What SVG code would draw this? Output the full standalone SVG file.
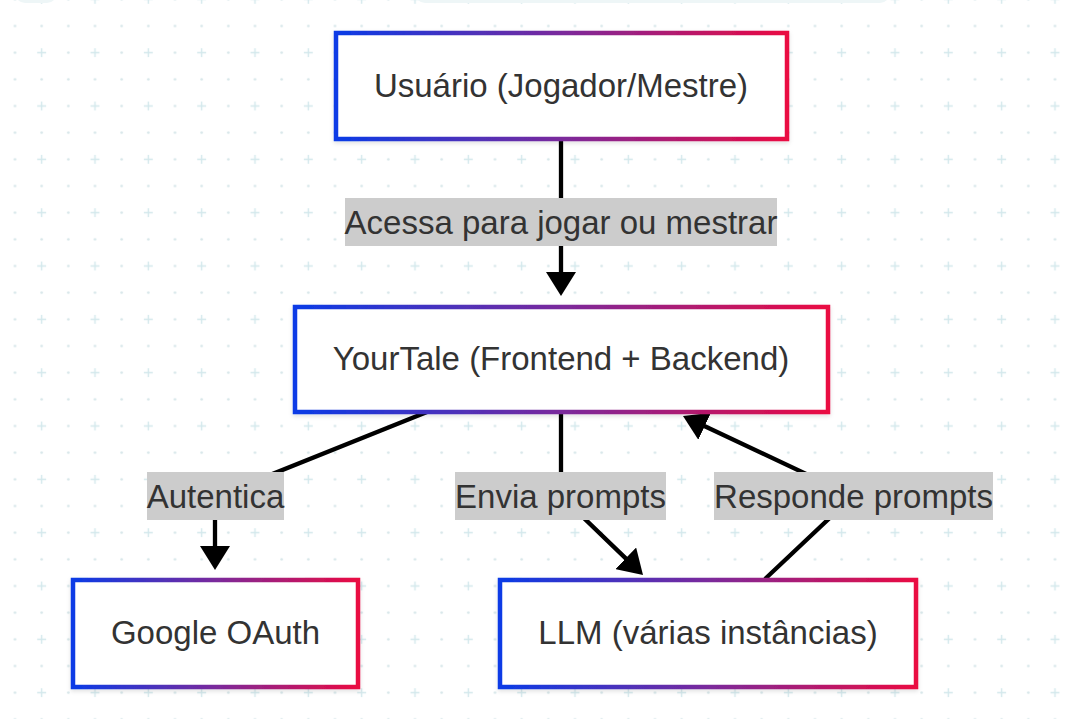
<svg xmlns="http://www.w3.org/2000/svg" width="1068" height="719" viewBox="0 0 1068 719">
<defs>
<pattern id="grid" x="1.67" y="12.67" width="53.333" height="53.333" patternUnits="userSpaceOnUse">
<circle cx="13.33" cy="13.33" r="1.3" fill="#d6e6e9"/>
<circle cx="40" cy="13.33" r="1.3" fill="#d6e6e9"/>
<circle cx="13.33" cy="40" r="1.3" fill="#d6e6e9"/>
<path d="M35.5,40 H44.5 M40,35.5 V44.5" stroke="#d3e8ec" stroke-width="1.4"/>
</pattern>
<linearGradient id="bd" x1="0" y1="0" x2="1" y2="0">
<stop offset="0" stop-color="#0a3be6"/>
<stop offset="0.5" stop-color="#7a2a9c"/>
<stop offset="1" stop-color="#ea0a42"/>
</linearGradient>
<filter id="sh" x="-10%" y="-10%" width="120%" height="130%">
<feDropShadow dx="0" dy="2" stdDeviation="2" flood-color="#000" flood-opacity="0.12"/>
</filter>
<marker id="ah" viewBox="0 0 24 30" markerWidth="24" markerHeight="30" refX="4" refY="15" orient="auto" markerUnits="userSpaceOnUse">
<path d="M0,0 L24,15 L0,30 z" fill="#000"/>
</marker>
<style>
.node rect{fill:#fff;stroke:url(#bd);stroke-width:4.5;filter:url(#sh)}
.node text,.lbl text{font-family:"Liberation Sans",Arial,sans-serif;font-size:33px;fill:#333;text-anchor:middle;dominant-baseline:central}
.lbl rect{fill:#cccccc}
.edge{fill:none;stroke:#000;stroke-width:4.3;marker-end:url(#ah)}
</style>
</defs>
<rect width="1068" height="719" fill="#fff"/>
<rect width="1068" height="719" fill="url(#grid)"/>
<rect x="415" y="-30" width="475" height="33" rx="10" fill="#eef6f7"/>
<rect x="15" y="-30" width="42" height="33" rx="10" fill="#eef6f7"/>
<g id="connectors">
<path class="edge" d="M561,139 L561,276"/>
<path class="edge" d="M427,412 L215,497 L215,550"/>
<path class="edge" d="M561,412 L561,496 L628.6,561.1"/>
<path class="edge" d="M765,579 L853,496 L701.1,424.5"/>
</g>
<g id="labels">
<g class="lbl" id="lbl-acessa"><rect x="345" y="198" width="432" height="48"/><text x="561" y="222">Acessa para jogar ou mestrar</text></g>
<g class="lbl" id="lbl-autentica"><rect x="147" y="472" width="137" height="48"/><text x="215.5" y="496">Autentica</text></g>
<g class="lbl" id="lbl-envia"><rect x="455" y="472" width="211" height="48"/><text x="560.5" y="496">Envia prompts</text></g>
<g class="lbl" id="lbl-responde"><rect x="714" y="472" width="279" height="48"/><text x="853.5" y="496">Responde prompts</text></g>
</g>
<g class="node" id="usuario"><rect x="336" y="33" width="451" height="106"/><text x="561" y="85">Usuário (Jogador/Mestre)</text></g>
<g class="node" id="yourtale"><rect x="295" y="307" width="533" height="105"/><text x="561" y="358">YourTale (Frontend + Backend)</text></g>
<g class="node" id="google"><rect x="73" y="580" width="285" height="107"/><text x="215.5" y="632">Google OAuth</text></g>
<g class="node" id="llm"><rect x="500" y="580" width="416" height="107"/><text x="708" y="632">LLM (várias instâncias)</text></g>
</svg>
